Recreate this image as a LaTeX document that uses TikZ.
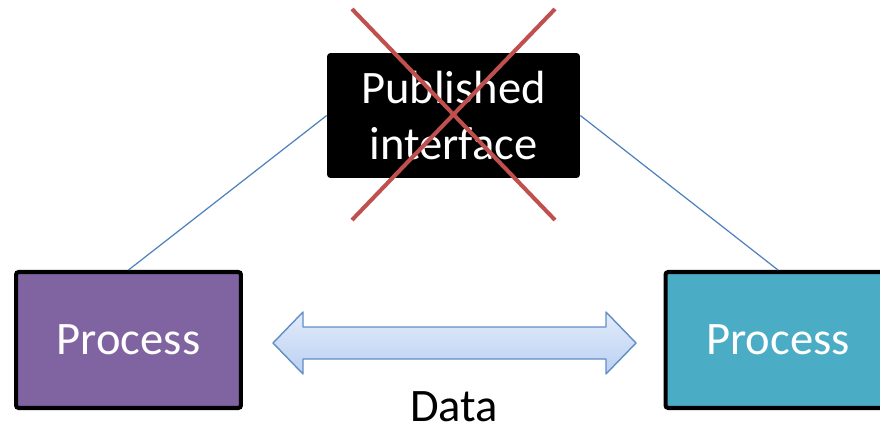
\documentclass[tikz,border=0pt]{standalone}
\usepackage{fontspec}
\setmainfont{Carlito}
\usetikzlibrary{calc}
\definecolor{procA}{HTML}{8064A2}
\definecolor{procB}{HTML}{4BACC6}
\definecolor{linkblue}{HTML}{4F81BD}
\definecolor{crossred}{HTML}{C0504D}
\definecolor{flowtop}{HTML}{E3ECFA}
\definecolor{flowbot}{HTML}{B9D0F1}
\begin{document}
\begin{tikzpicture}[x=0.02cm, y=-0.02cm, font=\fontsize{26.5}{31.5}\selectfont]
        \tikzset{proc/.style={draw=black, line width=2.3pt, rounded corners=1.5pt, minimum width=4.5cm, minimum height=2.72cm, text=white, inner sep=0pt},
                 pub/.style={fill=black, rounded corners=2pt, minimum width=5.06cm, minimum height=2.5cm, text=white, align=center, inner sep=0pt}}
        \useasboundingbox (0,0) rectangle (880,427);
        \clip (0,0) rectangle (880,427);
        \node[pub] (p) at (453.5,115.5) {Published\\interface};
        \node[proc, fill=procA] (l) at (128.5,340) {Process};
        \node[proc, fill=procB] (r) at (778,340) {Process};
        \draw[linkblue, line width=0.7pt] (l.north) -- (p.west);
        \draw[linkblue, line width=0.7pt] (p.east) -- (r.north);
        % the crossing-out
        \coordinate (c) at (453.5,114.5);
        \draw[crossred, line width=2.3pt] ($(c)+(-101.5,-105.5)$) -- ($(c)+(101.5,105.5)$);
        \draw[crossred, line width=2.3pt] ($(c)+(101.5,-105.5)$) -- ($(c)+(-101.5,105.5)$);
        % data flow
        \coordinate (a) at (454.5,343);
        \draw[draw=linkblue!90, line width=0.8pt, line join=round, top color=flowtop, bottom color=flowbot]
            ($(a)+(-181.5,0)$) -- ($(a)+(-151.5,-31)$) -- ($(a)+(-151.5,-16)$) -- ($(a)+(151.5,-16)$)
            -- ($(a)+(151.5,-31)$) -- ($(a)+(181.5,0)$) -- ($(a)+(151.5,31)$) -- ($(a)+(151.5,16)$)
            -- ($(a)+(-151.5,16)$) -- ($(a)+(-151.5,31)$) -- cycle;
        \node[inner sep=0pt, anchor=base] (d) at (454,421) {Data};
    \end{tikzpicture}
\end{document}
